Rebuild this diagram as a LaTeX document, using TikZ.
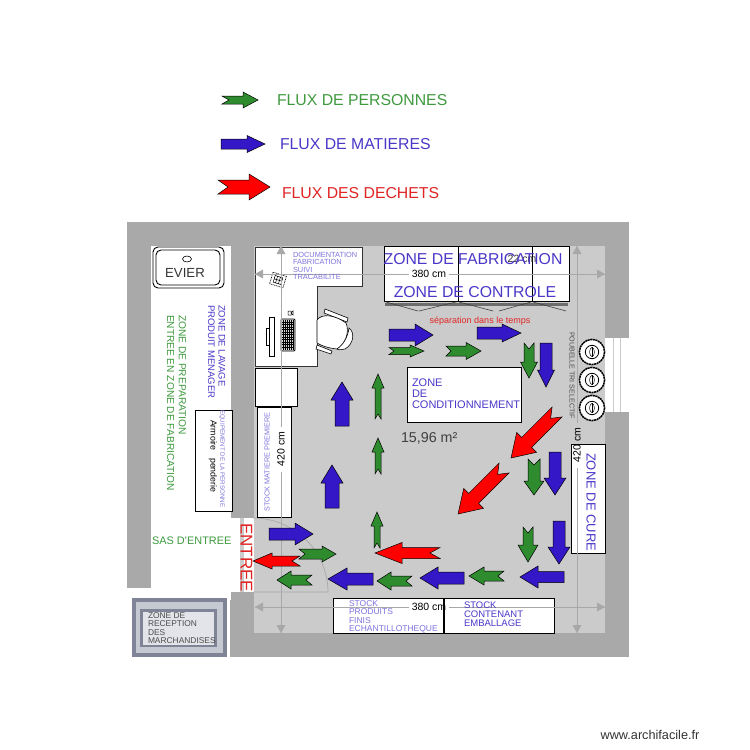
\documentclass[tikz,border=0pt]{standalone}
\usepackage{fontspec}
\setmainfont{Liberation Sans}
\usetikzlibrary{arrows.meta}
\definecolor{wallc}{HTML}{A9A9A9}
\definecolor{floorc}{HTML}{CBCBCB}
\definecolor{dimc}{HTML}{A8A8A8}
\definecolor{txb}{HTML}{4A38C8}
\definecolor{txl}{HTML}{7F74DC}
\definecolor{txg}{HTML}{3F9A3F}
\definecolor{txr}{HTML}{E02424}
\definecolor{fgrn}{HTML}{2E8B2E}
\definecolor{fblu}{HTML}{3418C8}
\definecolor{recA}{HTML}{7F8596}
\definecolor{recB}{HTML}{C5C9D2}
\definecolor{recC}{HTML}{E2E4E9}
\tikzset{
  grn/.style={draw=black,line width=.5pt,fill=fgrn},
  blu/.style={draw=black,line width=.5pt,fill=fblu},
  rd/.style={draw=black,line width=.5pt,fill=red},
  boxw/.style={draw=black,line width=.9pt,fill=white},
  dimline/.style={draw=dimc,line width=.9pt},
  dimtip/.style={fill=dimc,draw=none},
  lab/.style={inner sep=0pt,outer sep=0pt,align=left,anchor=west},
  vlab/.style={inner sep=0pt,outer sep=0pt,rotate=-90,anchor=west},
}
\newcommand{\flx}[9]{\begin{scope}[shift={(#2,#3)},rotate=#4]
\path[#1] (0,#6) -- ({#5-#8},#6) -- ({#5-#8},#7) -- (#5,0) -- ({#5-#8},-#7) -- ({#5-#8},-#6) -- (0,-#6) -- (#9,0) -- cycle;
\end{scope}}
\newcommand{\dimh}[3]{\path[dimtip] (#1,#3) -- ++(8,-4.5) -- ++(0,9) -- cycle; \path[dimtip] (#2,#3) -- ++(-8,-4.5) -- ++(0,9) -- cycle;}
\newcommand{\dimv}[3]{\path[dimtip] (#3,#1) -- ++(-4.5,8) -- ++(9,0) -- cycle; \path[dimtip] (#3,#2) -- ++(-4.5,-8) -- ++(9,0) -- cycle;}
\newcommand{\bin}[2]{\draw[black,line width=1.5pt,dash pattern=on 2pt off .6pt,fill=white] (#1,#2) circle (12.6);
\draw[black,line width=.8pt] (#1,#2) circle (6.7); \draw[black,line width=.5pt] (#1,#2) ellipse (2.4 and 4.6); \draw[black,line width=.5pt] (#1,{#2-4.6}) -- (#1,{#2+4.6});}
\begin{document}
\begin{tikzpicture}[x=1pt,y=-1pt]
\useasboundingbox (0,0) rectangle (750,750);
\fill[white] (0,0) rectangle (750,750);
% walls and floor
\fill[wallc] (127,222) rectangle (629,657);
\fill[white] (151,246) rectangle (230.5,600);
\fill[white] (126,588) rectangle (230,658);
\fill[white] (230.5,518) rectangle (254,592);
\fill[floorc] (254,246) rectangle (605,633);
\fill[floorc] (240,518) rectangle (244,592);
\fill[white] (605,338) rectangle (629,412);
\draw[floorc,line width=.8pt] (613,338) -- (613,412) (620,338) -- (620,412);
% door swing
\draw[dimc,line width=.7pt] (253,518) .. controls (294.4,518) and (328,551.6) .. (328,592) -- (253,592);
% desk with documentation shelf
\path[fill=white,draw=black!80,line width=.6pt] (255,247) -- (362,247) -- (362,286) -- (317,286) -- (317,366) -- (255,366) -- cycle;
\draw[black,line width=.5pt,fill=white] (269,317) rectangle (274,356) (266,328) rectangle (269,345);
\draw[black,line width=.8pt,fill=gray!35,rounded corners=1pt] (281,319) rectangle (295,351);
\foreach \q in {283,285,...,293} {\draw[black,line width=.3pt] (\q,320) -- (\q,350);}
\foreach \q in {322,324.5,...,349} {\draw[black,line width=.3pt] (282,\q) -- (294,\q);}
\draw[black,line width=.5pt] (288,311) rectangle (291,315) (291,313) -- (293,311) -- (293,315) -- cycle;
\begin{scope}[shift={(278,280)},rotate=-17]
\draw[black,line width=.6pt,dash pattern=on 1pt off .7pt,fill=white] (-7,-6) rectangle (7,6);
\draw[black,line width=.5pt] (-4,-3.5) rectangle (4,3.5) (-1.5,-3.5) -- (-1.5,3.5) (1.5,-3.5) -- (1.5,3.5) (-4,0) -- (4,0);
\end{scope}
% chair
\draw[black,line width=.6pt,fill=white] (325,309) -- (348,318) -- (347,322) -- (324,313) -- cycle;
\draw[black,line width=.6pt,fill=white] (317,345) -- (332,351) -- (331,354) -- (316,349) -- cycle;
\draw[black,line width=.6pt,fill=white] (317,320) .. controls (322,313) and (335,315) .. (346,323) .. controls (350,332) and (345,345) .. (337,349) .. controls (328,348) and (322,346) .. (317,343) -- cycle;
\draw[black,line width=.6pt,fill=white] (349,328) .. controls (355,332) and (354,344) .. (345,349) .. controls (342,350) and (338,350) .. (337,349) .. controls (343,345) and (348,337) .. (349,328) -- cycle;
% other boxes
\path[boxw] (255,368) rectangle (297,406);
\path[boxw] (257,407) rectangle (291,517);
\path[boxw] (195,410) rectangle (232,511);
\path[fill=white,draw=black,line width=.9pt,rounded corners=5pt] (153,247) rectangle (224,288);
\path[draw=black,line width=.9pt,rounded corners=5pt] (156,250) rectangle (220,285);
\draw[black,line width=.6pt] (187,259) ellipse (4.5 and 3);
% fabrication
\path[boxw] (384,246) rectangle (569,301);
\draw[black,line width=.9pt] (458,246) -- (458,301) (532,246) -- (532,301);
\fill[gray!85!black] (385,303) rectangle (568,306);
\draw[black!75,line width=.6pt] (386,302) -- (418,311) (419,311) -- (456,302) (459,302) -- (493,311) (499,311) -- (531,302) (533,302) -- (566,311);
\path[boxw] (407,367) rectangle (521,422);
\path[boxw] (571,444) rectangle (605,553);
\path[boxw] (333,598) rectangle (443,633);
\path[boxw] (444,598) rectangle (554,633);
% bins
\bin{592}{352}\bin{592}{380}\bin{592}{408}
% reception box
\fill[recA] (132,598) rectangle (227,657);
\fill[recB] (136,602) rectangle (223,653);
\fill[recA] (140,609) rectangle (217,647);
\fill[recC] (143,612) rectangle (214,645);
% dimension lines
\draw[dimline] (255,274) -- (409,274) (449,274) -- (605,274);
\dimh{255}{605}{274}
\draw[dimline] (255,607) -- (409,607) (449,607) -- (605,607);
\dimh{255}{605}{607}
\draw[dimline] (281,246) -- (281,427) (281,472) -- (281,633);
\dimv{246}{633}{281}
\draw[dimline] (577,246) -- (577,423) (577,468) -- (577,633);
\dimv{246}{633}{577}
% legend arrows
\flx{grn}{222}{100}{0}{36}{4}{8}{15}{7}
\flx{blu}{221}{144}{0}{44}{5}{8.5}{18}{0}
\flx{rd}{218}{187}{0}{52}{7}{13}{21}{10}
% flow arrows
\flx{blu}{389}{335}{0}{44}{6}{11}{18}{0}
\flx{grn}{389}{351}{0}{35}{3.5}{6}{14}{5}
\flx{grn}{446}{351}{0}{35}{5}{8.5}{15}{5}
\flx{blu}{477}{333}{0}{44}{6}{9}{19}{0}
\flx{grn}{529}{343}{270}{35}{5}{8.5}{16}{6}
\flx{blu}{546}{343}{270}{44}{6}{8.5}{17}{0}
\flx{grn}{378}{419}{90}{45}{3}{6}{14}{5}
\flx{blu}{342}{426}{90}{44}{7}{11}{18}{0}
\flx{rd}{557}{412}{225}{65}{7}{14}{22}{9}
\flx{rd}{504}{468}{225}{65}{7}{14}{22}{9}
\flx{grn}{378}{474}{90}{36}{3}{6}{14}{5}
\flx{grn}{377}{548}{90}{36}{3}{6}{14}{5}
\flx{blu}{332}{508}{90}{43}{7}{11}{18}{0}
\flx{grn}{534}{459}{270}{36}{6}{10}{14}{6}
\flx{blu}{555}{452}{270}{43}{6}{11}{17}{0}
\flx{grn}{528}{527}{270}{35}{5}{10}{17}{6}
\flx{blu}{559}{521}{270}{43}{6}{11}{17}{0}
\flx{blu}{564}{577}{180}{44}{5.5}{11}{18}{0}
\flx{grn}{504}{576}{180}{35}{5}{9}{15}{6}
\flx{blu}{464}{578}{180}{44}{6}{11}{18}{0}
\flx{grn}{412}{581}{180}{35}{5}{9}{14}{6}
\flx{blu}{373}{579}{180}{45}{6}{11}{19}{0}
\flx{rd}{440}{553}{180}{65}{5.5}{10.5}{27}{10}
\flx{grn}{312}{580}{180}{35}{5}{9}{14}{6}
\flx{rd}{300}{561}{180}{47}{5}{8}{19}{8}
\flx{grn}{299}{554}{0}{37}{5}{8}{14}{6}
\flx{blu}{269}{534}{0}{44}{6}{11}{18}{0}
% legend text
\node[lab,text=txg,font=\fontsize{15.8}{17}\selectfont] (tleg1) at (277,100) {FLUX DE PERSONNES};
\node[lab,text=txb,font=\fontsize{15.8}{17}\selectfont] (tleg2) at (280,144) {FLUX DE MATIERES};
\node[lab,text=txr,font=\fontsize{15.8}{17}\selectfont] (tleg3) at (282,193) {FLUX DES DECHETS};
% labels
\node[inner sep=0pt,text=black!80,font=\fontsize{13.2}{16}\selectfont] (tevier) at (185,273) {EVIER};
\node[vlab,text=txb,font=\fontsize{9.5}{10}\selectfont] (tl1) at (222,305) {ZONE DE LAVAGE};
\node[vlab,text=txb,font=\fontsize{9.5}{10}\selectfont] (tl2) at (211.5,305) {PRODUIT MENAGER};
\node[vlab,text=txg,font=\fontsize{10.2}{11}\selectfont] (tp1) at (182.5,315) {ZONE DE PREPARATION};
\node[vlab,text=txg,font=\fontsize{10.15}{11}\selectfont] (tp2) at (170.5,315) {ENTREE EN ZONE DE FABRICATION};
\node[vlab,text=black,font=\fontsize{8.8}{9}\selectfont] (tarm) at (213,420) {Armoire\ \ \ penderie};
\node[vlab,text=txl,font=\fontsize{6.2}{7}\selectfont] (teq) at (222,410) {EQUIPEMENT DE LA PERSONNE};
\node[inner sep=0pt,rotate=90,anchor=west,text=txl,font=\fontsize{7.3}{8}\selectfont] (tsm) at (267,512) {STOCK MATIERE PREMIERE};
\node[inner sep=0pt,rotate=90,text=black,font=\fontsize{10.5}{12}\selectfont] (t420a) at (281,449) {420 cm};
\node[inner sep=0pt,rotate=90,text=black,font=\fontsize{10.5}{12}\selectfont] (t420b) at (577,445) {420 cm};
\node[inner sep=0pt,text=black,font=\fontsize{10.5}{12}\selectfont] (t380a) at (429,274) {380 cm};
\node[inner sep=0pt,text=black,font=\fontsize{10.5}{12}\selectfont] (t380b) at (429,607) {380 cm};
\node[inner sep=0pt,text=black!80,font=\fontsize{10.5}{12}\selectfont] (t22) at (522,259) {22 cm};
\node[lab,text=txg,font=\fontsize{10.9}{12}\selectfont] (tsas) at (152,541) {SAS D'ENTREE};
\node[vlab,text=txr,font=\fontsize{17}{18}\selectfont] (tent) at (246.5,523) {ENTREE};
\node[lab,text=black!75,font=\fontsize{14.3}{15}\selectfont] (tm2) at (401,438) {15,96 m²};
\node[inner sep=0pt,text=txr,font=\fontsize{9}{10}\selectfont] (tsep) at (480,321) {séparation dans le temps};
\node[lab,text=txl,font=\fontsize{7.4}{7.5}\selectfont] (tdoc) at (293,266) {DOCUMENTATION\\FABRICATION\\SUIVI\\TRACABILITE};
\node[inner sep=0pt,text=txb,font=\fontsize{15.8}{18}\selectfont] (tfab) at (473,259) {ZONE DE FABRICATION};
\node[inner sep=0pt,text=txb,font=\fontsize{15.8}{18}\selectfont] (tctl) at (475,292) {ZONE DE CONTROLE};
\node[lab,text=txb,font=\fontsize{11}{11}\selectfont] (tcond) at (412,394) {ZONE\\DE\\CONDITIONNEMENT};
\node[vlab,text=txb,font=\fontsize{13}{15}\selectfont] (tcure) at (591,453) {ZONE DE CURE};
\node[vlab,text=black!70,font=\fontsize{7.1}{8}\selectfont] (tpb) at (572,332) {POUBELLE TRI SELECTIF};
\node[lab,text=txl,font=\fontsize{8.5}{8.4}\selectfont] (tsp) at (349,617) {STOCK\\PRODUITS\\FINIS\\ECHANTILLOTHEQUE};
\node[lab,text=txb,font=\fontsize{9.5}{9}\selectfont] (tsc) at (464,614) {STOCK\\CONTENANT\\EMBALLAGE};
\node[lab,text=black!70,font=\fontsize{8.4}{8.3}\selectfont] (trec) at (148,628) {ZONE DE\\RECEPTION\\DES\\MARCHANDISES};
\node[inner sep=0pt,text=black!80,font=\fontsize{12.7}{14}\selectfont] (twww) at (650,735) {www.archifacile.fr};
\end{tikzpicture}
\end{document}
